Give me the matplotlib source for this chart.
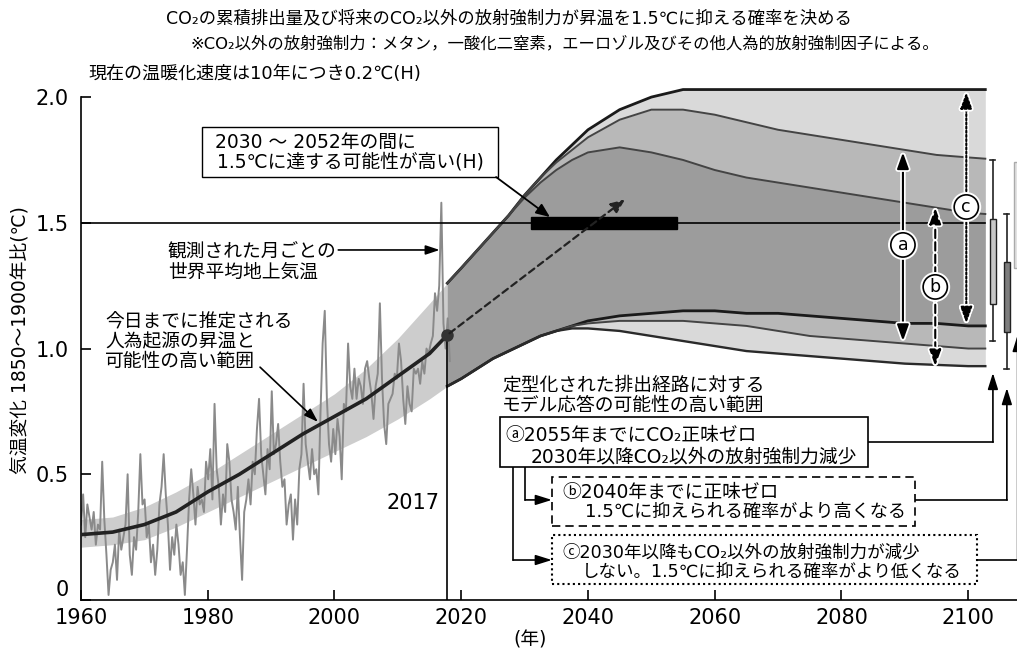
import numpy as np
import matplotlib
matplotlib.use("Agg")
import matplotlib.pyplot as plt
from matplotlib.patches import Rectangle
import matplotlib.patheffects as pe

plt.rcParams['font.family'] = ['DejaVu Sans', 'Noto Sans CJK JP']

# observed global mean surface temperature, roughly 3 readings per year 1960-2017
obs_temp = [
    0.30, 0.42, 0.25,  0.38, 0.33, 0.28,  0.35, 0.22, 0.30,  0.28, 0.55, 0.32,
    0.18, 0.02, 0.12,  0.15, 0.22, 0.08,  0.28, 0.20, 0.25,  0.30, 0.50, 0.18,
    0.10, 0.25, 0.20,  0.35, 0.58, 0.38,  0.40, 0.25, 0.30,  0.15, 0.22, 0.10,
    0.20, 0.38, 0.45,  0.58, 0.42, 0.30,  0.12, 0.25, 0.18,  0.30, 0.22, 0.10,
    0.15, 0.02, 0.20,  0.40, 0.52, 0.42,  0.30, 0.45, 0.38,  0.40, 0.35, 0.55,
    0.48, 0.60, 0.40,  0.78, 0.52, 0.45,  0.30, 0.42, 0.35,  0.62, 0.55, 0.40,
    0.35, 0.28, 0.45,  0.25, 0.08, 0.35,  0.40, 0.48, 0.38,  0.55, 0.50, 0.68,
    0.80, 0.58, 0.50,  0.42, 0.60, 0.52,  0.83, 0.58, 0.62,  0.70, 0.55, 0.45,
    0.48, 0.30, 0.38,  0.42, 0.24, 0.40,  0.30, 0.52, 0.58,  0.86, 0.62, 0.55,
    0.48, 0.60, 0.50,  0.52, 0.42, 0.75,  1.02, 1.15, 0.80,  0.62, 0.55, 0.68,
    0.58, 0.72, 0.65,  0.48, 0.78, 0.75,  1.02, 0.85, 0.80,  0.92, 0.80, 0.88,
    0.85, 0.78, 0.92,  0.95, 0.88, 0.82,  0.72, 0.85, 0.90,  1.18, 0.88, 0.70,
    0.62, 0.78, 0.80,  0.82, 0.90, 0.88,  1.02, 0.95, 0.80,  0.70, 0.85, 0.78,
    0.75, 0.92, 0.90,  0.92, 0.86, 0.95,  0.90, 1.00, 0.98,  1.02, 1.05, 1.22,
    1.15, 1.25, 1.58,  1.10, 1.00, 1.12,  0.95,
]
obs_years = np.linspace(1960, 2018.2, len(obs_temp))

# human-induced warming and its likely range
hist_years = [1960, 1965, 1970, 1975, 1980, 1985, 1990, 1995, 2000, 2005, 2010, 2015, 2017.8]
hist_mid = [0.26, 0.27, 0.30, 0.35, 0.43, 0.50, 0.58, 0.66, 0.73, 0.80, 0.89, 0.98, 1.054]
hist_lo = [0.21, 0.22, 0.24, 0.29, 0.35, 0.41, 0.47, 0.53, 0.59, 0.65, 0.72, 0.80, 0.85]
hist_hi = [0.32, 0.33, 0.37, 0.43, 0.50, 0.58, 0.66, 0.74, 0.82, 0.92, 1.04, 1.18, 1.26]

# model response ranges for the stylised pathways
proj_years = [2017.8, 2020, 2022.5, 2025, 2027.5, 2030, 2032.5, 2035, 2037.5, 2040, 2045,
              2050, 2055, 2060, 2065, 2070, 2075, 2080, 2085, 2090, 2095, 2100, 2102.7]
a_hi = [1.26, 1.32, 1.39, 1.46, 1.53, 1.61, 1.68, 1.74, 1.79, 1.84, 1.91,
        1.95, 1.95, 1.93, 1.90, 1.87, 1.85, 1.83, 1.81, 1.79, 1.77, 1.76, 1.755]
a_lo = [0.85, 0.88, 0.92, 0.96, 0.99, 1.02, 1.05, 1.07, 1.09, 1.10, 1.11,
        1.11, 1.11, 1.10, 1.09, 1.07, 1.05, 1.04, 1.03, 1.02, 1.01, 1.00, 1.00]
b_hi = [1.26, 1.32, 1.39, 1.46, 1.53, 1.60, 1.66, 1.71, 1.75, 1.78, 1.80,
        1.78, 1.75, 1.71, 1.68, 1.66, 1.64, 1.62, 1.60, 1.58, 1.56, 1.54, 1.535]
b_lo = [0.85, 0.88, 0.92, 0.96, 0.99, 1.02, 1.05, 1.07, 1.08, 1.08, 1.07,
        1.05, 1.03, 1.01, 0.99, 0.98, 0.97, 0.96, 0.95, 0.94, 0.935, 0.93, 0.93]
c_hi = [1.26, 1.32, 1.39, 1.46, 1.53, 1.61, 1.68, 1.75, 1.81, 1.87, 1.95,
        2.00, 2.03, 2.03, 2.03, 2.03, 2.03, 2.03, 2.03, 2.03, 2.03, 2.03, 2.03]
c_lo = [0.85, 0.88, 0.92, 0.96, 0.99, 1.02, 1.05, 1.07, 1.09, 1.11, 1.13,
        1.14, 1.15, 1.15, 1.14, 1.14, 1.13, 1.12, 1.11, 1.10, 1.10, 1.09, 1.09]

# ranges at 2100 (whiskers and boxes on the right)
box_x = [2103.9, 2106.1]
box_whisk = [(1.03, 1.75), (0.92, 1.535)]
box_q = [(1.177, 1.515), (1.066, 1.344)]
box_col = ['#c8c8c8', '#7d7d7d']

fig = plt.figure(figsize=(10.17, 6.53), dpi=100)
ax = fig.add_axes([81 / 1017, 53 / 653, 936 / 1017, 518 / 653])
ax.set_xlim(1960, 2107.7)
ax.set_ylim(0, 2.06)

# historical part
ax.fill_between(hist_years, hist_lo, hist_hi, color='#cdcdcd', lw=0, zorder=1)
ax.plot(obs_years, obs_temp, color='#8a8a8a', lw=1.4, zorder=2)
ax.plot(hist_years, hist_mid, color='#222222', lw=2.6, zorder=3)

# projections: overlapping translucent ranges
for lo, hi in [(a_lo, a_hi), (b_lo, b_hi), (c_lo, c_hi)]:
    ax.fill_between(proj_years, lo, hi, color='black', alpha=0.15, lw=0, zorder=1)
ax.plot(proj_years, c_hi, color='#1a1a1a', lw=2.0, zorder=4)
ax.plot(proj_years, c_lo, color='#1a1a1a', lw=2.0, zorder=4)
ax.plot(proj_years, a_hi, color='#444444', lw=1.4, zorder=4)
ax.plot(proj_years, b_hi, color='#444444', lw=1.4, zorder=4)
ax.plot(proj_years, a_lo, color='#444444', lw=1.4, zorder=4)
ax.plot(proj_years, b_lo, color='#2a2a2a', lw=1.7, zorder=4)

# 1.5 line, 2017 line, dot, bar
ax.plot([1960, 2102.7], [1.5, 1.5], color='black', lw=1.2, zorder=5)
ax.plot([2017.8, 2017.8], [0, 1.054], color='black', lw=1.2, zorder=5)
ax.plot([2017.8], [1.054], 'o', color='#333333', ms=8, zorder=6)
ax.add_patch(Rectangle((2031.0, 1.475), 23.1, 0.047, color='black', zorder=6))
ax.annotate('', xy=(2046.2, 1.60), xytext=(2017.8, 1.054),
            arrowprops=dict(arrowstyle='-|>,head_length=0.6,head_width=0.25', color='#222222',
                            lw=1.6, linestyle=(0, (3, 2)), mutation_scale=14), zorder=6)
ax.text(2016.6, 0.385, '2017', ha='right', va='center', fontsize=15)

# a / b / c range arrows
for x, lo, hi, ls, lab, ly in [(2089.7, 1.03, 1.78, '-', 'a', 1.412),
                               (2094.8, 0.93, 1.56, (0, (4, 2)), 'b', 1.245),
                               (2099.7, 1.10, 2.02, (0, (1, 1)), 'c', 1.563)]:
    an = ax.annotate('', xy=(x, hi), xytext=(x, lo),
                     arrowprops=dict(arrowstyle='<|-|>,head_length=0.7,head_width=0.25',
                                     color='black', lw=1.5, linestyle=ls, mutation_scale=14,
                                     shrinkA=0, shrinkB=0), zorder=7)
    an.arrow_patch.set_path_effects([pe.withStroke(linewidth=4, foreground='white')])
    t = ax.text(x, ly, lab, ha='center', va='center', fontsize=12.5, zorder=8,
                bbox=dict(boxstyle='circle,pad=0.18', fc='white', ec='black', lw=1.2))
    t.get_bbox_patch().set_path_effects([pe.withStroke(linewidth=4, foreground='white')])

# boxes at the right
for x, (w0, w1), (q0, q1), col in zip(box_x, box_whisk, box_q, box_col):
    ax.plot([x, x], [w0, w1], color='#222222', lw=1.2, clip_on=False, zorder=5)
    ax.plot([x - 0.4, x + 0.4], [w0, w0], color='#222222', lw=1.2, clip_on=False, zorder=5)
    ax.plot([x - 0.4, x + 0.4], [w1, w1], color='#222222', lw=1.2, clip_on=False, zorder=5)
    ax.add_patch(Rectangle((x - 0.45, q0), 0.9, q1 - q0, fc=col, ec='#222222', lw=1.0,
                           clip_on=False, zorder=6))
ax.add_patch(Rectangle((2107.3, 1.32), 0.9, 0.42, fc='#e2e2e2', ec='#aaaaaa', lw=1.0,
                       clip_on=False, zorder=6))

# text annotations
fs = 13.5
ax.text(1973.7, 1.346, '観測された月ごとの\n世界平均地上気温', ha='left', va='center',
        fontsize=fs, linespacing=1.1)
ax.annotate('', xy=(2016.6, 1.392), xytext=(2000.6, 1.392),
            arrowprops=dict(arrowstyle='-|>,head_length=0.6,head_width=0.2', color='black',
                            lw=1.2, mutation_scale=14, shrinkA=0, shrinkB=0))
ax.text(1963.8, 1.026, '今日までに推定される\n人為起源の昇温と\n可能性の高い範囲', ha='left',
        va='center', fontsize=fs, linespacing=1.05)
ax.annotate('', xy=(1997.4, 0.708), xytext=(1988.25, 0.926),
            arrowprops=dict(arrowstyle='-|>,head_length=0.6,head_width=0.2', color='black',
                            lw=1.2, mutation_scale=14, shrinkA=0, shrinkB=0))
ax.text(2026.45, 0.815, '定型化された排出経路に対する\nモデル応答の可能性の高い範囲',
        ha='left', va='center', fontsize=fs, linespacing=1.05)

# top box
ax.add_patch(Rectangle((1979.1, 1.682), 46.7, 0.199, fc='white', ec='black', lw=1.0,
                       zorder=6))
ax.text(1981.15, 1.821, '2030 ～ 2052年の間に', ha='left', va='center', fontsize=fs, zorder=7)
ax.text(1981.46, 1.742, '1.5℃に達する可能性が高い(H)', ha='left', va='center',
        fontsize=fs, zorder=7)
ax.annotate('', xy=(2034.0, 1.523), xytext=(2025.5, 1.682),
            arrowprops=dict(arrowstyle='-|>,head_length=0.6,head_width=0.25', color='black',
                            lw=1.3, mutation_scale=14, shrinkA=0, shrinkB=0), zorder=7)

# pathway boxes
ax.add_patch(Rectangle((2026.1, 0.529), 58.1, 0.199, fc='white', ec='black', lw=1.2,
                       zorder=6))
ax.add_patch(Rectangle((2034.3, 0.294), 57.3, 0.195, fc='white', ec='black', lw=1.2,
                       ls=(0, (5, 3)), zorder=6))
ax.add_patch(Rectangle((2034.3, 0.064), 67.1, 0.194, fc='white', ec='black', lw=1.5,
                       ls=(0, (1, 1.5)), clip_on=False, zorder=6))
ax.text(2026.9, 0.656, 'ⓐ2055年までにCO₂正味ゼロ', ha='left', va='center', fontsize=fs, zorder=7)
ax.text(2030.9, 0.569, '2030年以降CO₂以外の放射強制力減少', ha='left', va='center',
        fontsize=fs, zorder=7)
ax.text(2035.9, 0.429, 'ⓑ2040年までに正味ゼロ', ha='left', va='center', fontsize=fs, zorder=7)
ax.text(2039.5, 0.350, '1.5℃に抑えられる確率がより高くなる', ha='left', va='center',
        fontsize=13.1, zorder=7)
ax.text(2035.9, 0.191, 'ⓒ2030年以降もCO₂以外の放射強制力が減少', ha='left', va='center',
        fontsize=12.6, zorder=7)
ax.text(2039.1, 0.111, 'しない。1.5℃に抑えられる確率がより低くなる', ha='left', va='center',
        fontsize=12.6, zorder=7)

# connectors
ah = dict(arrowstyle='-|>,head_length=0.7,head_width=0.22', color='black', lw=1.2,
          mutation_scale=14, shrinkA=0, shrinkB=0)
ax.plot([2030.1, 2030.1], [0.529, 0.398], color='black', lw=1.2, zorder=5)
ax.annotate('', xy=(2034.3, 0.398), xytext=(2030.1, 0.398), arrowprops=ah, zorder=7)
ax.plot([2028.2, 2028.2], [0.529, 0.159], color='black', lw=1.2, zorder=5)
ax.annotate('', xy=(2034.3, 0.159), xytext=(2028.2, 0.159), arrowprops=ah, zorder=7)
ax.plot([2084.2, 2103.9], [0.628, 0.628], color='black', lw=1.2, clip_on=False, zorder=5)
ax.annotate('', xy=(2103.9, 0.903), xytext=(2103.9, 0.628), arrowprops=ah,
            annotation_clip=False, zorder=7)
ax.plot([2091.6, 2106.1], [0.398, 0.398], color='black', lw=1.2, clip_on=False, zorder=5)
ax.annotate('', xy=(2106.1, 0.843), xytext=(2106.1, 0.398), arrowprops=ah,
            annotation_clip=False, zorder=7)
ax.plot([2101.4, 2107.8], [0.159, 0.159], color='black', lw=1.2, clip_on=False, zorder=5)
ax.annotate('', xy=(2107.8, 1.054), xytext=(2107.8, 0.159), arrowprops=ah,
            annotation_clip=False, zorder=7)

# axes styling
for s in ['top', 'right']:
    ax.spines[s].set_visible(False)
ax.spines['left'].set_linewidth(1.2)
ax.spines['left'].set_bounds(0, 2.0)
ax.spines['bottom'].set_linewidth(1.2)
ax.set_xticks(list(range(1960, 2101, 20)))
ax.set_yticks([0, 0.5, 1.0, 1.5, 2.0])
ax.set_yticklabels(['0', '0.5', '1.0', '1.5', '2.0'])
ax.tick_params(direction='in', length=7, width=1.2, labelsize=15)
ax.tick_params(axis='x', pad=6)
ax.tick_params(axis='y', pad=9)
ax.get_yticklabels()[0].set_va('bottom')

fig.text(509 / 1017, 1 - 18 / 653,
         'CO₂の累積排出量及び将来のCO₂以外の放射強制力が昇温を1.5℃に抑える確率を決める',
         ha='center', va='center', fontsize=12.5)
fig.text(565 / 1017, 1 - 44 / 653,
         '※CO₂以外の放射強制力：メタン，一酸化二窒素，エーロゾル及びその他人為的放射強制因子による。',
         ha='center', va='center', fontsize=11.8)
fig.text(88 / 1017, 1 - 74 / 653, '現在の温暖化速度は10年につき0.2℃(H)',
         ha='left', va='center', fontsize=13)
fig.text(20 / 1017, 1 - 340 / 653, '気温変化 1850～1900年比(℃)', rotation=90,
         ha='center', va='center', fontsize=13.5)
fig.text(530 / 1017, 1 - 640 / 653, '(年)', ha='center', va='center', fontsize=13.5)

fig.savefig('out.png', dpi=100)
